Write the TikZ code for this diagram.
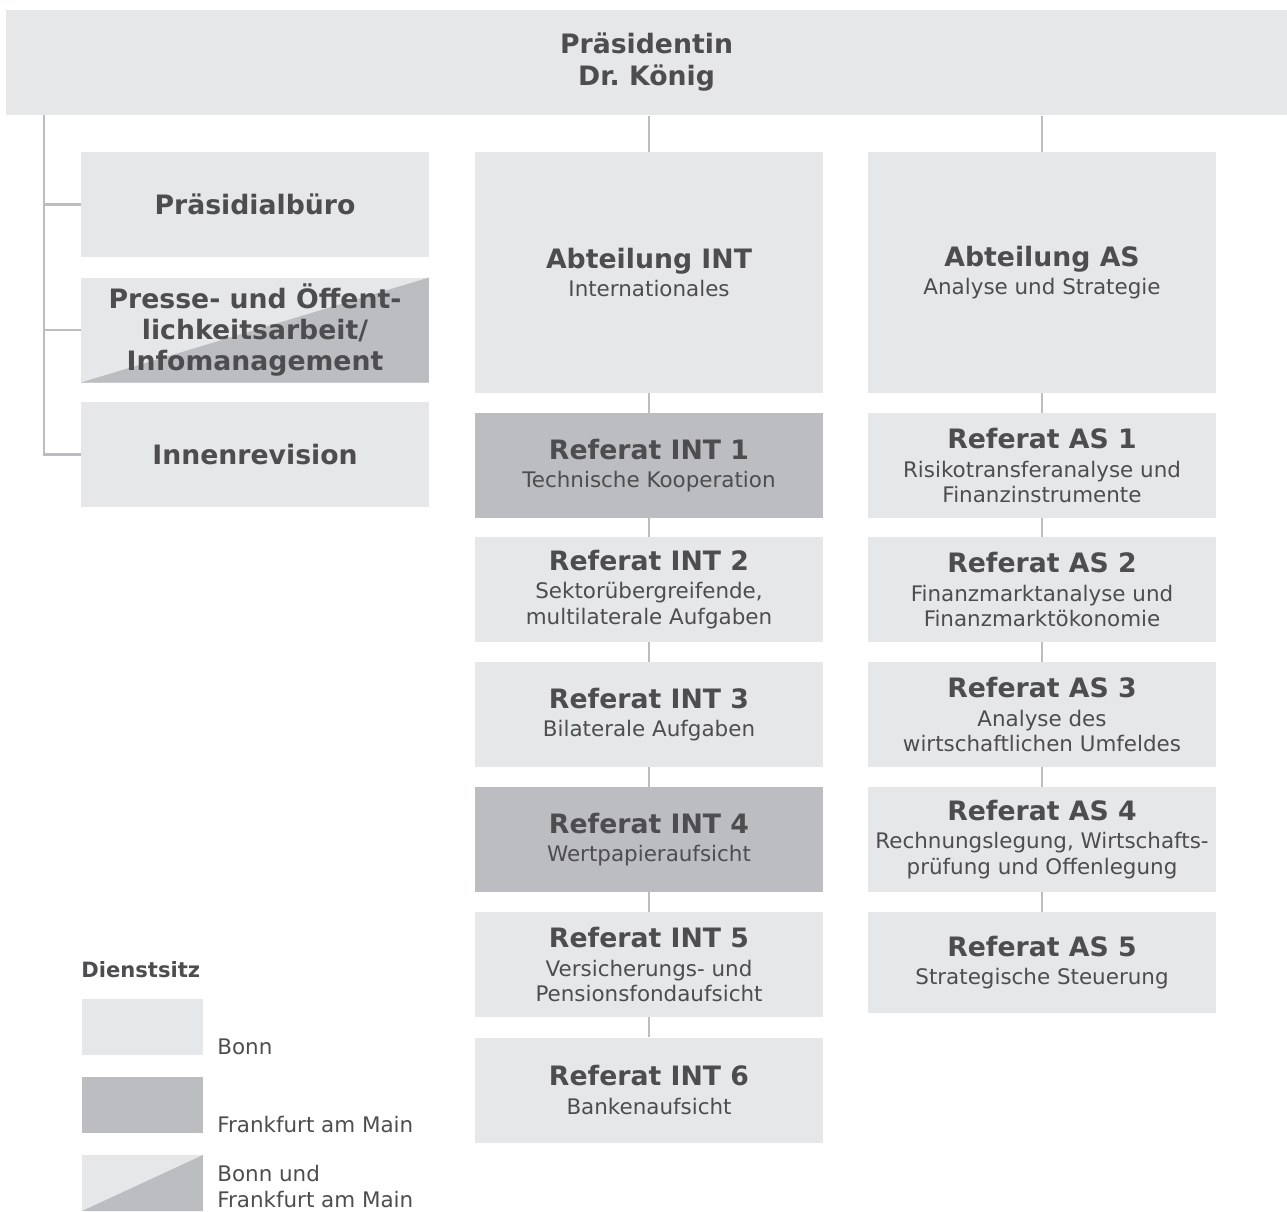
\documentclass[tikz,border=0pt]{standalone}
\usepackage{fontspec}
\setmainfont{DejaVu Sans}
\frenchspacing
\definecolor{bonn}{HTML}{E6E7E9}
\definecolor{ffm}{HTML}{BCBDC0}
\definecolor{txt}{HTML}{4D4D4F}
\newcommand{\kopf}{\fontsize{15.2}{17}\selectfont\bfseries}
\newcommand{\unter}{\fontsize{12.2}{14.7}\selectfont}
\begin{document}
\begin{tikzpicture}[x=0.02cm, y=-0.02cm,
  box/.style={rectangle, fill=bonn, inner sep=0pt, minimum width=6.96cm,
    minimum height=2.1cm, align=center, text=txt, font=\unter},
  fbox/.style={box, fill=ffm},
  stab/.style={box, font=\fontsize{15.2}{17.4}\selectfont\bfseries},
  bfbox/.style={stab, path picture={\fill[ffm] (path picture bounding box.south west)
    -- (path picture bounding box.north east) -- (path picture bounding box.south east) -- cycle;}},
  abt/.style={box, minimum height=4.82cm},
  leg/.style={rectangle, fill=bonn, inner sep=0pt, minimum width=2.42cm, minimum height=1.12cm},
  legtxt/.style={anchor=base west, inner sep=0pt, text=txt, align=left, font=\fontsize{12.2}{14.3}\selectfont},
  conn/.style={draw=ffm, line width=1.6pt}]
\useasboundingbox (0,0) rectangle (1287,1211);

% Praesidentin
\node(Top)[stab, minimum width=25.62cm, minimum height=2.12cm, font=\fontsize{15.2}{18.2}\selectfont\bfseries] at (646.5,62.5)
  {Präsidentin\\ Dr. König};

% Stabsstellen
\node(Pb)[stab] at (255,204.5) {Präsidialbüro};
\node(Pr)[bfbox] at (255,330) {Presse- und Öffent-\\ lichkeitsarbeit/\\ Infomanagement};
\node(IR)[stab] at (255,454.5) {Innenrevision};

% Abteilung INT
\node(INT)[abt] at (649,272.5) {{\kopf Abteilung INT}\\[1.7pt] Internationales};
\node(INT1)[fbox] at (649,465.5) {{\kopf Referat INT 1}\\[1.7pt] Technische Kooperation};
\node(INT2)[box] at (649,589.5) {{\kopf Referat INT 2}\\[1.7pt] Sektorübergreifende,\\ multilaterale Aufgaben};
\node(INT3)[box] at (649,714.5) {{\kopf Referat INT 3}\\[1.7pt] Bilaterale Aufgaben};
\node(INT4)[fbox] at (649,839.5) {{\kopf Referat INT 4}\\[1.7pt] Wertpapieraufsicht};
\node(INT5)[box] at (649,964.5) {{\kopf Referat INT 5}\\[1.7pt] Versicherungs- und\\ Pensionsfondaufsicht};
\node(INT6)[box] at (649,1090) {{\kopf Referat INT 6}\\[1.7pt] Bankenaufsicht};

% Abteilung AS
\node(AS)[abt] at (1042,272.5) {{\kopf Abteilung AS}\\[1.7pt] Analyse und Strategie};
\node(AS1)[box] at (1042,465.5) {{\kopf Referat AS 1}\\[1.7pt] Risikotransferanalyse und\\ Finanzinstrumente};
\node(AS2)[box] at (1042,589.5) {{\kopf Referat AS 2}\\[1.7pt] Finanzmarktanalyse und\\ Finanzmarktökonomie};
\node(AS3)[box] at (1042,714.5) {{\kopf Referat AS 3}\\[1.7pt] Analyse des\\ wirtschaftlichen Umfeldes};
\node(AS4)[box] at (1042,839.5) {{\kopf Referat AS 4}\\[1.7pt] Rechnungslegung, Wirtschafts-\\ prüfung und Offenlegung};
\node(AS5)[box, minimum height=2.02cm] at (1042,962.5) {{\kopf Referat AS 5}\\[1.7pt] Strategische Steuerung};

% Linien
\coordinate(Bus) at (44,115);
\draw[conn] (Bus) |- (Pb.west);
\draw[conn] (Bus) |- (Pr.west);
\draw[conn] (Bus) |- (IR.west);
\draw[conn] (Top.south -| INT.north) -- (INT.north);
\draw[conn] (Top.south -| AS.north) -- (AS.north);
\foreach \a/\b in {INT/INT1, INT1/INT2, INT2/INT3, INT3/INT4, INT4/INT5, INT5/INT6,
  AS/AS1, AS1/AS2, AS2/AS3, AS3/AS4, AS4/AS5}
  \draw[conn] (\a.south) -- (\b.north);

% Legende
\node(Dienst)[anchor=west, inner sep=0pt, text=txt, font=\fontsize{12}{14}\selectfont\bfseries] at (81,970) {Dienstsitz};
\node(LBonn)[leg] at (142.5,1027) {};
\node(LFfm)[leg, fill=ffm] at (142.5,1105) {};
\node(LBeide)[leg, path picture={\fill[ffm] (path picture bounding box.south west)
    -- (path picture bounding box.north east) -- (path picture bounding box.south east) -- cycle;}] at (142.5,1183) {};
\node(TBonn)[legtxt] at (217,1054) {Bonn};
\node(TFfm)[legtxt] at (217,1132) {Frankfurt am Main};
\node(TBeide)[legtxt] at (217,1207) {Bonn und\\ Frankfurt am Main};
\end{tikzpicture}
\end{document}
